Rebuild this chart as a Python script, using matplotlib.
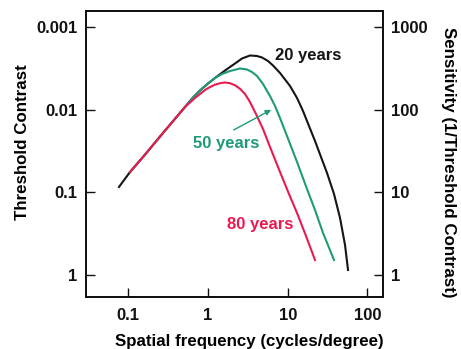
import matplotlib
matplotlib.use("Agg")
import matplotlib.pyplot as plt

plt.rcParams['font.family'] = ['Liberation Sans', 'DejaVu Sans']
plt.rcParams['font.weight'] = 'bold'

# Contrast sensitivity functions by age
# (spatial frequency in cycles/degree, sensitivity = 1 / threshold contrast)
freq_20 = [0.0764, 0.1051, 0.1529, 0.2041, 0.2724, 0.3745, 0.5145, 0.6483, 0.7937,
           1.0, 1.2243, 1.6343, 2.1823, 2.671, 3.365, 4.119, 4.759, 5.658, 6.541,
           8.006, 10.69, 13.09, 15.56, 22.0, 31.13, 38.10, 45.33, 52.36, 57.10]
sens_20 = [11.63, 17.66, 26.83, 37.49, 52.38, 75.24, 108.1, 140.9, 171.3,
           208.2, 242.7, 299.1, 363.5, 417.9, 454.4, 448.1, 429.8, 389.8, 343.8,
           279.0, 194.2, 139.0, 96.7, 41.91, 17.18, 9.564, 4.898, 2.308, 1.150]

freq_50 = [0.1051, 0.1529, 0.2041, 0.2724, 0.3745, 0.5145, 0.6483, 0.7937, 1.0,
           1.2243, 1.4987, 1.888, 2.5206, 3.085, 3.565, 4.119, 4.898, 5.998, 6.928,
           8.006, 9.799, 13.09, 17.47, 22.0, 27.74, 38.10]
sens_50 = [17.66, 26.83, 37.49, 52.38, 75.24, 108.1, 140.9, 171.3, 208.2,
           242.7, 271.3, 294.9, 316.2, 307.6, 286.8, 256.6, 205.3, 146.9, 111.2,
           79.56, 48.18, 23.33, 10.99, 6.121, 3.225, 1.519]

freq_80 = [0.1051, 0.1529, 0.2041, 0.2724, 0.3745, 0.5145, 0.5943, 0.6869, 0.7937,
           0.9170, 1.0595, 1.2243, 1.4147, 1.6343, 1.888, 2.1823, 2.5206, 2.912,
           3.365, 4.002, 4.898, 5.998, 8.006, 10.38, 13.09, 16.97, 22.0]
sens_80 = [17.66, 26.83, 37.49, 52.38, 75.24, 108.1, 122.6, 139.0, 155.4,
           173.7, 188.8, 201.3, 209.9, 214.1, 209.9, 198.0, 179.6, 155.4,
           124.3, 88.96, 58.56, 35.44, 17.66, 9.564, 5.631, 2.966, 1.519]

x_ticks = [0.1, 1, 10, 100]
x_tick_labels = ['0.1', '1', '10', '100']
sens_ticks = [1000, 100, 10, 1]
contrast_tick_labels = ['0.001', '0.01', '0.1', '1']
sens_tick_labels = ['1000', '100', '10', '1']

BLACK = '#151515'
GREEN = '#1f9a78'
RED = '#ea1a50'

fig = plt.figure(figsize=(4.61, 3.49), dpi=100)
ax = fig.add_axes([0.1866, 0.149, 0.6443, 0.8195])

ax.plot(freq_20, sens_20, color=BLACK, lw=1.5, solid_joinstyle='round')
ax.plot(freq_50, sens_50, color=GREEN, lw=1.5, solid_joinstyle='round')
ax.plot(freq_80, sens_80, color=RED, lw=1.5, solid_joinstyle='round')

ax.set_xscale('log')
ax.set_yscale('log')
ax.set_xlim(0.0295, 157)
ax.set_ylim(0.542, 1571)

ax.set_xticks(x_ticks)
ax.set_xticklabels(x_tick_labels)
ax.set_yticks(sens_ticks)
ax.set_yticklabels(contrast_tick_labels)
ax.minorticks_off()

ax2 = ax.twinx()
ax2.set_yscale('log')
ax2.set_ylim(ax.get_ylim())
ax2.set_yticks(sens_ticks)
ax2.set_yticklabels(sens_tick_labels)
ax2.minorticks_off()

for a in (ax, ax2):
    a.tick_params(direction='in', length=6.5, width=1.0, labelsize=12,
                  colors='#111111', pad=6)
    for s in a.spines.values():
        s.set_linewidth(1.3)
        s.set_color('#111111')
ax.tick_params(axis='x', pad=8)

ax.set_xlabel('Spatial frequency (cycles/degree)', fontsize=12.2, fontweight='bold',
              va='center')
ax.xaxis.set_label_coords(0.549, -0.154)
ax.set_ylabel('Threshold Contrast', fontsize=12.2, fontweight='bold',
              ha='center', va='center')
ax.yaxis.set_label_coords(-0.2155, 0.542)
ax2.set_ylabel('Sensitivity (1/Threshold Contrast)', fontsize=12.2, fontweight='bold',
               rotation=270, ha='center', va='center')
ax2.yaxis.set_label_coords(1.219, 0.472)

ax.text(18.0, 460, '20 years', color=BLACK, fontsize=12, fontweight='bold',
        ha='center', va='center')
ax.text(1.68, 39.6, '50 years', color=GREEN, fontsize=12, fontweight='bold',
        ha='center', va='center')
ax.text(4.49, 4.14, '80 years', color=RED, fontsize=12, fontweight='bold',
        ha='center', va='center')
ax.annotate('', xy=(6.2, 100), xytext=(2.1, 57),
            arrowprops=dict(arrowstyle='-|>', color=GREEN, lw=1.0,
                            mutation_scale=8, shrinkA=0, shrinkB=0))

fig.savefig('out.png', dpi=100, facecolor='white')
